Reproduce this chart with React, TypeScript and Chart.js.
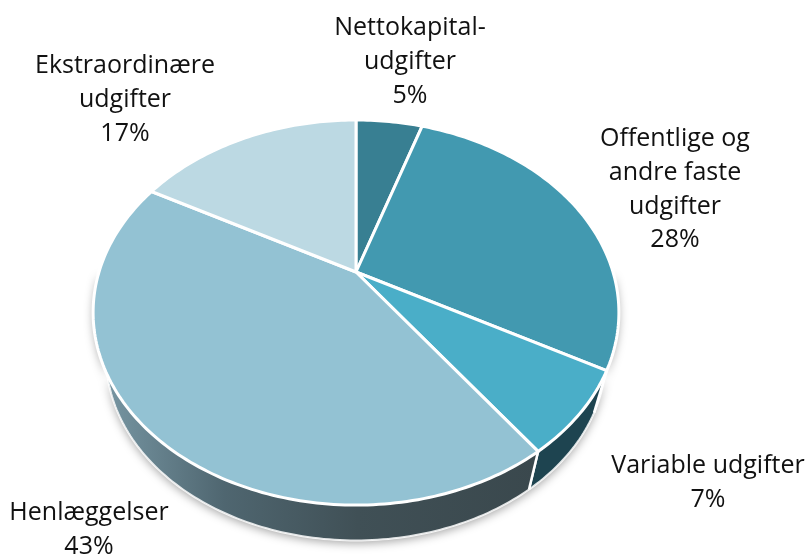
import React, { useEffect, useRef } from 'react';
import { Chart, registerables } from 'chart.js';

Chart.register(...registerables);

// ---- data ----
const categories: string[][] = [
  ['Nettokapital-', 'udgifter'],
  ['Offentlige og', 'andre faste', 'udgifter'],
  ['Variable udgifter'],
  ['Henlæggelser'],
  ['Ekstraordinære', 'udgifter'],
];
const shares: number[] = [5, 28, 7, 43, 17];

// ---- styles ----
const topColors = ['#387f92', '#4299b0', '#4aaec8', '#93c2d3', '#bcd9e3'];
const sideColors = ['#1d4a57', '#20505d', '#1e4450', 'grad', '#6f8f9c'];
// label anchor: centre x, first baseline y
const LABEL_POS: [number, number][] = [
  [410, 35],
  [675, 146],
  [708, 473],
  [89, 520],
  [125, 73],
];
const LINE_H = 33.8;
const FONT = '25px "Open Sans", "Noto Sans", sans-serif';
const PERSP = 4.75; // perspective distance (in radii)
const TILT = 0.716; // vertical squash
const DROP = 47; // downward shift of the bottom rim
const SHRINK = 0.95; // bottom rim scale (further away)

function proj(cx: number, cy: number, R: number, a: number): [number, number] {
  const X = Math.cos(a);
  const Y = Math.sin(a);
  const s = PERSP / (PERSP - Y);
  return [cx + R * X * s, cy + R * TILT * Y * s];
}
function projBottom(cx: number, cy: number, R: number, a: number): [number, number] {
  const [x, y] = proj(cx, cy, R, a);
  return [cx + (x - cx) * SHRINK, cy + DROP + (y - cy) * SHRINK];
}

const pie3d = {
  id: 'pie3d',
  beforeDatasetsDraw(chart: any) {
    const ctx: CanvasRenderingContext2D = chart.ctx;
    const meta = chart.getDatasetMeta(0);
    const arcs = meta.data.map((el: any) =>
      el.getProps(['x', 'y', 'startAngle', 'endAngle', 'outerRadius'], true)
    );
    if (!arcs.length) return false;
    const cx = arcs[0].x;
    const cy = arcs[0].y;
    const R = arcs[0].outerRadius;
    const STEP = Math.PI / 180;

    const wallPath = (a0: number, a1: number) => {
      ctx.beginPath();
      const n = Math.max(2, Math.ceil((a1 - a0) / STEP));
      for (let i = 0; i <= n; i++) {
        const a = a0 + ((a1 - a0) * i) / n;
        const [x, y] = proj(cx, cy, R, a);
        if (i === 0) ctx.moveTo(x, y);
        else ctx.lineTo(x, y);
      }
      for (let i = n; i >= 0; i--) {
        const a = a0 + ((a1 - a0) * i) / n;
        const [x, y] = projBottom(cx, cy, R, a);
        ctx.lineTo(x, y);
      }
      ctx.closePath();
    };

    // soft shadow under the body
    ctx.save();
    wallPath(0, Math.PI);
    ctx.shadowColor = 'rgba(0,0,0,0.35)';
    ctx.shadowBlur = 10;
    ctx.shadowOffsetY = 3;
    ctx.fillStyle = '#3b494e';
    ctx.fill();
    ctx.restore();

    // walls
    arcs.forEach((p: any, i: number) => {
      const ranges: [number, number][] = [];
      for (const off of [-2 * Math.PI, 0, 2 * Math.PI]) {
        const a0 = Math.max(p.startAngle + off, 0);
        const a1 = Math.min(p.endAngle + off, Math.PI);
        if (a1 > a0) ranges.push([a0, a1]);
      }
      ranges.forEach(([a0, a1]) => {
        ctx.save();
        wallPath(a0, a1);
        if (sideColors[i] === 'grad') {
          const g = ctx.createLinearGradient(cx - R * 1.03, 0, cx + R * 0.7, 0);
          g.addColorStop(0, '#7b9ba8');
          g.addColorStop(0.3, '#4f6670');
          g.addColorStop(0.6, '#405056');
          g.addColorStop(1, '#3a484d');
          ctx.fillStyle = g;
        } else {
          ctx.fillStyle = sideColors[i];
        }
        ctx.fill();
        ctx.strokeStyle = '#ffffff';
        ctx.lineWidth = 2.5;
        [a0, a1].forEach((a) => {
          if (a > 0.5 && a < Math.PI - 0.5) {
            const [x, y] = proj(cx, cy, R, a);
            const [bx, by] = projBottom(cx, cy, R, a);
            ctx.beginPath();
            ctx.moveTo(x, y);
            ctx.lineTo(bx, by);
            ctx.stroke();
          }
        });
        ctx.restore();
      });
    });

    // bottom rim highlight
    ctx.save();
    ctx.beginPath();
    for (let k = 0; k <= 180; k++) {
      const [x, y] = projBottom(cx, cy, R, k * STEP);
      if (k === 0) ctx.moveTo(x, y);
      else ctx.lineTo(x, y);
    }
    ctx.strokeStyle = 'rgba(255,255,255,0.85)';
    ctx.lineWidth = 2;
    ctx.stroke();
    ctx.restore();

    // top faces
    arcs.forEach((p: any, i: number) => {
      ctx.save();
      ctx.beginPath();
      ctx.moveTo(cx, cy);
      const n = Math.max(2, Math.ceil((p.endAngle - p.startAngle) / STEP));
      for (let k = 0; k <= n; k++) {
        const a = p.startAngle + ((p.endAngle - p.startAngle) * k) / n;
        const [x, y] = proj(cx, cy, R, a);
        ctx.lineTo(x, y);
      }
      ctx.closePath();
      ctx.fillStyle = topColors[i];
      ctx.fill();
      ctx.strokeStyle = '#ffffff';
      ctx.lineWidth = 3;
      ctx.lineJoin = 'round';
      ctx.stroke();
      ctx.restore();
    });

    // labels
    const total = shares.reduce((a, b) => a + b, 0);
    ctx.save();
    ctx.font = FONT;
    ctx.fillStyle = '#111111';
    ctx.textAlign = 'center';
    ctx.textBaseline = 'alphabetic';
    const labels = chart.data.labels as string[][];
    labels.forEach((lines, i) => {
      const [lx, ly] = LABEL_POS[i];
      const all = [...lines, `${Math.round((shares[i] / total) * 100)}%`];
      all.forEach((t, j) => ctx.fillText(t, lx, ly + j * LINE_H));
    });
    ctx.restore();
    return false;
  },
};

export default function App() {
  const ref = useRef<HTMLCanvasElement>(null);
  useEffect(() => {
    if (!ref.current) return;
    const chart = new Chart(ref.current, {
      type: 'pie',
      data: {
        labels: categories,
        datasets: [
          {
            data: shares,
            backgroundColor: topColors,
            borderWidth: 0,
          },
        ],
      },
      options: {
        responsive: false,
        animation: false,
        layout: { padding: { left: 99, right: 194, top: 15, bottom: 28 } },
        plugins: {
          legend: { display: false },
          tooltip: { enabled: false },
        },
      },
      plugins: [pie3d],
    });
    return () => chart.destroy();
  }, []);
  return (
    <div style={{ position: 'fixed', left: 0, top: 0, width: 807, height: 557, background: '#fff' }}>
      <canvas ref={ref} width={807} height={557} style={{ width: 807, height: 557, display: 'block' }} />
    </div>
  );
}
